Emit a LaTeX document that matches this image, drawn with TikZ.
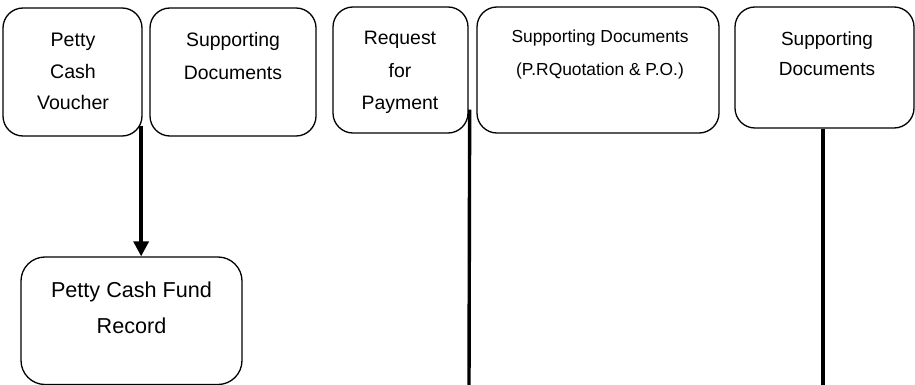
\documentclass[tikz,border=0pt]{standalone}
\usepackage{fontspec}
\setmainfont{Liberation Sans}
\usetikzlibrary{arrows.meta}
\begin{document}
\begin{tikzpicture}[x=1pt,y=-1pt,
  box/.style={draw,line width=1.3pt,rounded corners=20pt,inner sep=0pt},
  lbl/.style={anchor=base,align=center,inner sep=0pt},
  conn/.style={line width=3.4pt}]
\useasboundingbox (0,0) rectangle (915,385);
% boxes
\node[box,minimum width=139pt,minimum height=128pt] (b1) at (72.5,72) {};
\node[box,minimum width=166pt,minimum height=128pt] (b2) at (233,72) {};
\node[box,minimum width=135pt,minimum height=126pt] (b4) at (400.5,70) {};
\node[box,minimum width=242pt,minimum height=126pt] (b5) at (598,70) {};
\node[box,minimum width=179pt,minimum height=121pt] (b6) at (824.5,67.5) {};
\node[box,rounded corners=24pt,minimum width=221pt,minimum height=127.5pt] (b3) at (131.5,320.75) {};
% texts (anchored at the baseline of the last line)
\node[lbl,font=\fontsize{19.6}{31.5}\selectfont] (t1) at (73,110) {Petty\\Cash\\Voucher};
\node[lbl,font=\fontsize{19.4}{33}\selectfont] (t2) at (233,80) {Supporting\\Documents};
\node[lbl,font=\fontsize{19.4}{32.5}\selectfont] (t4) at (400,110) {Request\\for\\Payment};
\node[lbl,font=\fontsize{17.4}{33}\selectfont] (t5) at (600,76) {Supporting Documents\\(P.RQuotation \& P.O.)};
\node[lbl,font=\fontsize{19}{30}\selectfont] (t6) at (827,76) {Supporting\\Documents};
\node[lbl,font=\fontsize{21.6}{36}\selectfont] (t3) at (131.5,333) {Petty Cash Fund\\Record};
% connectors
\coordinate (e4) at (469,386);
\coordinate (e6) at (823,386);
\draw[conn,-{Triangle[width=15pt,length=15pt]}] ([xshift=-1.5pt,yshift=11pt]b1.south east) -- ([xshift=-1.5pt]b1.south east |- b3.north);
\draw[conn] ([xshift=1pt,yshift=24pt]b4.south east) -- (e4);
\draw[conn] ([xshift=-1.5pt]b6.south) -- (e6);
\end{tikzpicture}
\end{document}
